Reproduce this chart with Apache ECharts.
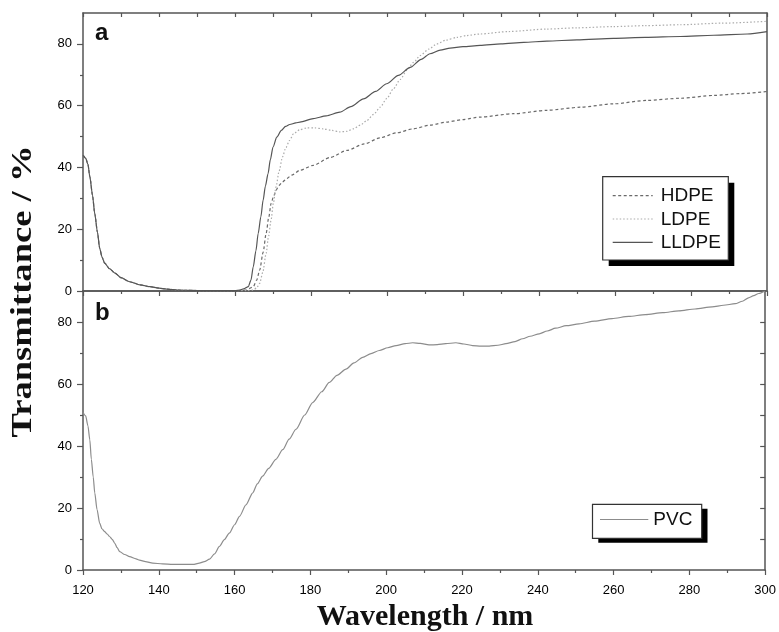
<!DOCTYPE html>
<html>
<head>
<meta charset="utf-8">
<script src="https://cdn.jsdelivr.net/npm/echarts@6/dist/echarts.min.js"></script>
<style>
  html, body { margin: 0; padding: 0; background: #fff; }
  #chart { width: 779px; height: 632px; }
</style>
</head>
<body>
<div id="chart"></div>
<script>
// Wavelength axis (nm) and transmittance ticks (%)
const wlMin = 120, wlMax = 300, wlStep = 20;
const tMin = 0, tMax = 90;
const tMajorTicks = [0, 20, 40, 60, 80];
const tMinorTicks = [10, 30, 50, 70];
const tRightTicks = [10, 20, 30, 40, 50, 60, 70, 80];

// Panel a: shared short-wavelength edge (all three PE films overlap here)
const peEdgeWl = [120, 120.7, 121.3, 121.8, 122.5, 123.1, 123.8, 124.4, 125.0, 125.7, 127.0, 128.4, 130, 132.3, 135, 137.6, 140, 142, 145, 148, 152, 156, 160];
const peEdgeT  = [44, 43, 41, 37, 31, 25, 19, 13.8, 11, 9, 7.2, 5.8, 4.3, 3, 2.0, 1.4, 0.9, 0.6, 0.3, 0.2, 0.1, 0.1, 0.1];

// HDPE
const hdpeWl = [163, 164.8, 165.7, 166.5, 167.4, 168.2, 168.9, 169.5, 170.2, 170.8, 171.6, 172.5, 173.6, 174.9, 177.1, 180.6, 185, 189.4, 194, 198.2, 202.5, 206.9, 211.3, 215.7, 220, 224.5, 233.3, 242.1, 250.9, 259.6, 268.4, 277.2, 286, 293, 300];
const hdpeT  = [0.3, 1.4, 3.5, 6.8, 12.5, 18.7, 24, 28.4, 30.8, 32.6, 34.2, 35.3, 36.4, 37.5, 39.1, 40.7, 43.2, 45.5, 47.6, 49.6, 51.2, 52.5, 53.7, 54.7, 55.5, 56.3, 57.4, 58.5, 59.5, 60.6, 61.7, 62.4, 63.3, 63.9, 64.6];

// LDPE
const ldpeWl = [163, 164.8, 165.7, 166.5, 167.3, 168.2, 168.8, 169.5, 170.1, 170.8, 171.6, 172.5, 173.4, 174.4, 175.4, 177, 178.9, 181, 183.2, 185.5, 187.6, 189.5, 191.1, 193, 194.7, 196.5, 198.2, 200, 201.7, 203.5, 205.2, 207, 208.7, 211, 213.1, 215.5, 218.4, 221, 224.5, 232, 242.1, 250, 259.6, 268, 277.2, 288, 300];
const ldpeT  = [0.1, 0.3, 1, 2.5, 6, 12.2, 17.5, 23, 28.5, 33.7, 38.8, 43.4, 46.5, 48.8, 50.9, 52.2, 52.8, 52.8, 52.5, 52, 51.5, 51.7, 52.5, 53.7, 55.2, 57.2, 59.5, 62.4, 65.5, 68.5, 71.4, 74, 76.2, 78.3, 80, 81.2, 82.1, 82.7, 83.2, 84, 84.8, 85.2, 85.6, 85.9, 86.2, 86.7, 87.3];

// LLDPE
const lldpeWl = [161.3, 162.5, 163.5, 164.2, 164.8, 165.5, 166.1, 166.8, 167.4, 168, 168.7, 169.3, 170, 171, 172.2, 173.3, 174.4, 176, 177.1, 180.6, 184, 187.6, 190.5, 193.8, 197, 199.9, 203, 206.1, 209, 211.3, 214, 216.6, 220, 224.5, 230, 236, 242.1, 250, 259.6, 268, 277.2, 286, 294.8, 300];
const lldpeT  = [0.3, 0.8, 1.4, 3.5, 7.8, 13, 18.6, 24, 29.4, 34, 38, 42.5, 46.6, 49.8, 52, 53.3, 53.9, 54.4, 54.7, 55.8, 56.7, 57.9, 59.7, 62.2, 64.6, 67.1, 69.8, 72.4, 75, 76.8, 78, 78.6, 79.1, 79.5, 80, 80.5, 80.9, 81.3, 81.8, 82.1, 82.4, 82.8, 83.2, 84];

// Panel b: PVC
const pvcWl = [120, 120.7, 121.3, 121.8, 122.2, 122.7, 123.1, 123.7, 124.4, 125, 125.7, 126.4, 127, 127.7, 128.4, 129, 129.7, 131, 132.3, 134, 134.9, 136.5, 138.4, 141, 143.7, 146, 149, 150.7, 152, 153.4, 154.7, 156, 157.3, 158.6, 160, 161.3, 163, 164.8, 166, 167.4, 169, 170.9, 172.7, 174.4, 176.2, 178.5, 180.6, 183, 185, 187, 189.4, 191.5, 193.8, 196, 198.2, 200.4, 202.6, 205, 207, 209, 211.3, 213.5, 215.7, 218.4, 220.5, 222.8, 225, 227.2, 229.5, 231.6, 234, 236, 238, 240.4, 242.5, 244.7, 247.5, 250.9, 255, 259.6, 264, 268.4, 273, 277.2, 281.5, 286, 289, 292.1, 294, 295.6, 297, 298.3, 300];
const pvcT  = [50.8, 49.7, 46.5, 42, 35.7, 30, 24.9, 19.5, 15.1, 13.3, 12.4, 11.6, 10.8, 9.9, 8.6, 7.2, 5.9, 5, 4.3, 3.6, 3.2, 2.7, 2.2, 2.0, 1.8, 1.8, 1.8, 2.2, 2.7, 3.5, 5.2, 7.6, 9.8, 11.9, 14.6, 17.3, 21, 24.9, 27.8, 30.3, 32.8, 35.7, 38.8, 42.2, 45.4, 50, 54, 57.5, 60.5, 62.8, 64.8, 66.8, 68.6, 69.8, 70.8, 71.7, 72.4, 73, 73.3, 73.1, 72.6, 72.7, 73, 73.3, 72.9, 72.4, 72.2, 72.2, 72.5, 73, 73.7, 74.6, 75.4, 76.2, 77.1, 78, 78.8, 79.4, 80.3, 81.1, 81.8, 82.4, 83, 83.6, 84.2, 84.9, 85.4, 85.9, 86.7, 87.8, 88.5, 89.2, 90];

const pairs = (xs, ys) => xs.map((x, i) => [x, ys[i]]);

const axisColor = '#555';
const labelFont = { fontFamily: 'Liberation Sans', fontSize: 13, color: '#000' };

function xAxes(gridIndex, withLabels) {
  return [
    { // bottom
      type: 'value', gridIndex, position: 'bottom', min: wlMin, max: wlMax, interval: wlStep,
      axisLine: { show: true, onZero: false, lineStyle: { color: axisColor, width: 1.5 } },
      axisTick: { show: true, inside: false, length: 5, lineStyle: { color: axisColor, width: 1.2 } },
      minorTick: { show: true, splitNumber: 2, length: 3, lineStyle: { color: axisColor, width: 1.2 } },
      axisLabel: Object.assign({ show: withLabels, margin: 14 }, labelFont),
      splitLine: { show: false }
    },
    { // top
      type: 'value', gridIndex, position: 'top', min: wlMin, max: wlMax, interval: wlStep,
      axisLine: { show: true, onZero: false, lineStyle: { color: axisColor, width: 1.5 } },
      axisTick: { show: !withLabels, inside: true, length: 4, lineStyle: { color: axisColor, width: 1.2 } },
      minorTick: { show: !withLabels, splitNumber: 2, length: 4, lineStyle: { color: axisColor, width: 1.2 } },
      axisLabel: { show: false },
      splitLine: { show: false }
    }
  ];
}

function yAxes(gridIndex, rightTicks) {
  return [
    { // left, labelled major ticks
      type: 'value', gridIndex, position: 'left', min: tMin, max: tMax,
      axisLine: { show: true, onZero: false, lineStyle: { color: axisColor, width: 1.5 } },
      axisTick: { show: true, inside: false, length: 6, customValues: tMajorTicks, lineStyle: { color: axisColor, width: 1.2 } },
      axisLabel: Object.assign({ show: true, margin: 11, customValues: tMajorTicks }, labelFont),
      splitLine: { show: false }
    },
    { // left, minor ticks
      type: 'value', gridIndex, position: 'left', min: tMin, max: tMax,
      axisLine: { show: false },
      axisTick: { show: true, inside: false, length: 3, customValues: tMinorTicks, lineStyle: { color: axisColor, width: 1.2 } },
      axisLabel: { show: false },
      splitLine: { show: false }
    },
    { // right frame
      type: 'value', gridIndex, position: 'right', min: tMin, max: tMax,
      axisLine: { show: true, onZero: false, lineStyle: { color: axisColor, width: 1.5 } },
      axisTick: { show: rightTicks, inside: true, length: 5, customValues: tRightTicks, lineStyle: { color: axisColor, width: 1.2 } },
      axisLabel: { show: false },
      splitLine: { show: false }
    }
  ];
}

function lineSeries(name, xAxisIndex, yAxisIndex, data, color, dash) {
  return {
    name, type: 'line', xAxisIndex, yAxisIndex, data,
    showSymbol: false, symbol: 'none', smooth: 0.25, smoothMonotone: 'x',
    lineStyle: { color, width: 1.2, type: dash || 'solid' },
    z: 3
  };
}

const chart = echarts.init(document.getElementById('chart'), null, { renderer: 'canvas' });

const hdpeData  = pairs(peEdgeWl, peEdgeT).concat(pairs(hdpeWl, hdpeT));
const ldpeData  = pairs(peEdgeWl, peEdgeT).concat(pairs(ldpeWl, ldpeT));
const lldpeData = pairs(peEdgeWl, peEdgeT).concat(pairs(lldpeWl, lldpeT));
const pvcData   = pairs(pvcWl, pvcT);

const legendFont = 'normal 19px "Liberation Sans"';

chart.setOption({
  animation: false,
  backgroundColor: '#fff',
  grid: [
    { left: 83, right: 12, top: 13, height: 278 },
    { left: 83, right: 12, top: 291, height: 279 }
  ],
  xAxis: xAxes(0, false).concat(xAxes(1, true)),
  yAxis: yAxes(0, false).concat(yAxes(1, true)),
  series: [
    lineSeries('HDPE', 0, 0, hdpeData, '#6a6a6a', [3, 2.5]),
    lineSeries('LDPE', 0, 0, ldpeData, '#ababab', [1.5, 2]),
    lineSeries('LLDPE', 0, 0, lldpeData, '#555555'),
    lineSeries('PVC', 2, 3, pvcData, '#8c8c8c')
  ],
  graphic: [
    // panel letters
    { type: 'text', x: 95, y: 33.5, style: { text: 'a', font: 'bold 24px "Liberation Sans"', fill: '#111', textAlign: 'left', textVerticalAlign: 'middle' } },
    { type: 'text', x: 95, y: 313.5, style: { text: 'b', font: 'bold 24px "Liberation Sans"', fill: '#111', textAlign: 'left', textVerticalAlign: 'middle' } },
    // axis titles
    { type: 'text', x: 23, y: 291.5, rotation: Math.PI / 2, scaleX: 1.22,
      style: { text: 'Transmittance / %', font: 'bold 30px "Liberation Serif"', fill: '#111', textAlign: 'center', textVerticalAlign: 'middle' } },
    { type: 'text', x: 425, y: 617.5,
      style: { text: 'Wavelength / nm', font: 'bold 30px "Liberation Serif"', fill: '#111', textAlign: 'center', textVerticalAlign: 'middle' } },
    // legend, panel a
    { type: 'rect', z: 10, shape: { x: 608.7, y: 182.7, width: 125.6, height: 83.3 }, style: { fill: '#000' } },
    { type: 'rect', z: 11, shape: { x: 602.7, y: 176.7, width: 125.6, height: 83.3 }, style: { fill: '#fff', stroke: '#333', lineWidth: 1.2 } },
    { type: 'line', z: 12, shape: { x1: 612.7, y1: 195.7, x2: 652.7, y2: 195.7 }, style: { stroke: '#6a6a6a', lineWidth: 1.2, lineDash: [3, 2.5] } },
    { type: 'line', z: 12, shape: { x1: 612.7, y1: 219, x2: 652.7, y2: 219 }, style: { stroke: '#ababab', lineWidth: 1.2, lineDash: [1.5, 2] } },
    { type: 'line', z: 12, shape: { x1: 612.7, y1: 242.3, x2: 652.7, y2: 242.3 }, style: { stroke: '#555', lineWidth: 1.2 } },
    { type: 'text', z: 12, x: 660.7, y: 196, style: { text: 'HDPE', font: legendFont, fill: '#111', textVerticalAlign: 'middle' } },
    { type: 'text', z: 12, x: 660.7, y: 219.3, style: { text: 'LDPE', font: legendFont, fill: '#111', textVerticalAlign: 'middle' } },
    { type: 'text', z: 12, x: 660.7, y: 242.6, style: { text: 'LLDPE', font: legendFont, fill: '#111', textVerticalAlign: 'middle' } },
    // legend, panel b
    { type: 'rect', z: 10, shape: { x: 598.3, y: 508.8, width: 109.2, height: 34 }, style: { fill: '#000' } },
    { type: 'rect', z: 11, shape: { x: 592.5, y: 504.3, width: 109.2, height: 34 }, style: { fill: '#fff', stroke: '#333', lineWidth: 1.2 } },
    { type: 'line', z: 12, shape: { x1: 600, y1: 519.5, x2: 648.3, y2: 519.5 }, style: { stroke: '#8c8c8c', lineWidth: 1.2 } },
    { type: 'text', z: 12, x: 653.3, y: 520, style: { text: 'PVC', font: legendFont, fill: '#111', textVerticalAlign: 'middle' } }
  ]
});
</script>
</body>
</html>
